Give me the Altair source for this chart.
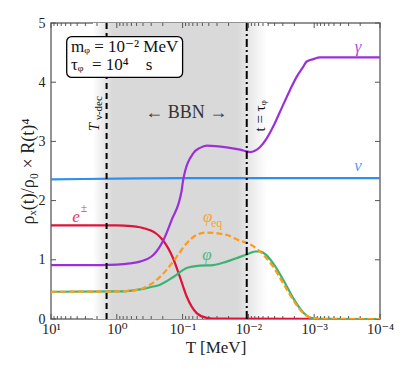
import altair as alt
import pandas as pd

# ---- data ----
T_gamma = [10, 3, 1.0, 0.63, 0.444, 0.279, 0.196, 0.147, 0.103, 0.098, 0.0688, 0.0544, 0.043, 0.0214,
           0.0134, 0.0106, 0.0095, 0.0067, 0.00527, 0.0042, 0.00331, 0.00233, 0.00185, 0.00147, 0.0013,
           0.00103, 0.00082, 0.0001]
v_gamma = [0.91, 0.91, 0.92, 0.94, 0.97, 1.08, 1.33, 1.67, 2.18, 2.35, 2.80, 2.89, 2.93, 2.90,
           2.86, 2.83, 2.82, 2.90, 3.05, 3.25, 3.50, 3.87, 4.09, 4.26, 4.35,
           4.39, 4.42, 4.42]

T_nu = [10, 1.0, 0.1, 0.01, 0.0001]
v_nu = [2.36, 2.37, 2.38, 2.38, 2.38]

T_ee = [10, 1.0, 0.6, 0.444, 0.313, 0.25, 0.199, 0.14, 0.11, 0.0867, 0.0611, 0.043, 0.03, 0.0001]
v_ee = [1.58, 1.58, 1.57, 1.55, 1.50, 1.44, 1.33, 1.03, 0.71, 0.38, 0.10, 0.02, 0.005, 0.0]

T_phieq = [10, 1.0, 0.6, 0.4, 0.248, 0.175, 0.123, 0.0867, 0.0611, 0.043, 0.0214, 0.0134, 0.0106,
           0.00667, 0.00419, 0.00295, 0.00208, 0.00147, 0.00103, 0.0008, 0.0001]
v_phieq = [0.46, 0.465, 0.48, 0.52, 0.66, 0.83, 1.05, 1.28, 1.42, 1.46, 1.42, 1.32, 1.29,
           1.14, 0.88, 0.60, 0.32, 0.10, 0.01, 0.0, 0.0]

T_phi = [10, 1.0, 0.6, 0.4, 0.3, 0.22, 0.138, 0.0867, 0.0544, 0.0341, 0.0214, 0.0134, 0.0106,
         0.0079, 0.0067, 0.0042, 0.00295, 0.00208, 0.00147, 0.00103, 0.0008, 0.0001]
v_phi = [0.46, 0.465, 0.48, 0.51, 0.54, 0.58, 0.71, 0.86, 0.90, 0.91, 0.97, 1.05, 1.09,
         1.14, 1.14, 0.94, 0.66, 0.35, 0.11, 0.01, 0.0, 0.0]

T_nudec = 1.43
T_tau = 0.0106
bbn_band = [2.30, 0.0052]

x_major = [10, 1, 0.1, 0.01, 0.001, 0.0001]
y_major = [0, 1, 2, 3, 4, 5]

C_GAMMA = "#9b30d9"
C_NU = "#2e8ff0"
C_EE = "#dc143c"
C_PHIEQ = "#ff9a1a"
C_PHI = "#3cb371"
FONT = "'Liberation Serif', 'DejaVu Serif', serif"
AX = "#707070"

xscale = alt.Scale(type="log", domain=[1e-4, 10], reverse=True)
yscale = alt.Scale(domain=[0, 5])


def X(**kw):
    return alt.X("T:Q", scale=xscale, **kw)


def Y(**kw):
    return alt.Y("v:Q", scale=yscale, **kw)


def series(T, v):
    return pd.DataFrame({"T": T, "v": v})


# shaded BBN band with soft edges
band = alt.Chart(pd.DataFrame({"T": [bbn_band[0]], "T2": [bbn_band[1]], "v": [0], "v2": [5]})).mark_rect(
    color=alt.Gradient(
        gradient="linear", x1=0, x2=1, y1=0, y2=0,
        stops=[alt.GradientStop(offset=0, color="#ffffff"),
               alt.GradientStop(offset=0.11, color="#d9d9d9"),
               alt.GradientStop(offset=0.83, color="#d9d9d9"),
               alt.GradientStop(offset=1, color="#ffffff")]),
).encode(x=X(title="T [MeV]", axis=alt.Axis(
    values=x_major, ticks=False, grid=False, domain=False, labelFlush=False,
    labelExpr="datum.value >= 5 ? '10¹' : datum.value >= 0.5 ? '10⁰' : datum.value >= 0.05 ? '10⁻¹' : datum.value >= 0.005 ? '10⁻²' : datum.value >= 0.0005 ? '10⁻³' : '10⁻⁴'",
    labelFont=FONT, labelFontSize=14.5, labelColor="#222", labelPadding=3,
    titleFont=FONT, titleFontSize=17, titleFontWeight="normal", titleColor="#222", titlePadding=4)),
    x2="T2:Q",
    y=Y(title="ρₓ(t)/ρ₀ × R(t)⁴", axis=alt.Axis(
        values=y_major, format="d", ticks=False, grid=False, domain=False, labelFlush=False,
        labelFont=FONT, labelFontSize=14,
        labelColor="#222", labelPadding=6, titleFont=FONT, titleFontSize=18, titleFontWeight="normal",
        titleColor="#222", titlePadding=1)),
    y2="v2:Q")

# inward ticks
tick_rows = []
for k in range(1, -5, -1):
    base = 10.0 ** k
    tick_rows.append({"T": base, "a": 0, "b": 0.085})
    tick_rows.append({"T": base, "a": 5, "b": 4.915})
    if k > -4:
        for m in range(2, 10):
            t = m * base / 10
            tick_rows.append({"T": t, "a": 0, "b": 0.05})
            tick_rows.append({"T": t, "a": 5, "b": 4.95})
xt = alt.Chart(pd.DataFrame(tick_rows)).mark_rule(color="#555", strokeWidth=1).encode(
    x=alt.X("T:Q", scale=xscale), y=alt.Y("a:Q", scale=yscale), y2="b:Q")

ytick_rows = []
for yv in y_major:
    ytick_rows.append({"x1": 10, "x2": 10 ** (1 - 5 / 65.8), "v": yv})
    ytick_rows.append({"x1": 1e-4, "x2": 10 ** (-4 + 5 / 65.8), "v": yv})
yt = alt.Chart(pd.DataFrame(ytick_rows)).mark_rule(color="#555", strokeWidth=1).encode(
    x=alt.X("x1:Q", scale=xscale), x2="x2:Q", y=alt.Y("v:Q", scale=yscale))


def line(T, v, color, dash=None):
    kw = dict(color=color, strokeWidth=2.2, interpolate="monotone", clip=True)
    if dash:
        kw["strokeDash"] = dash
    return alt.Chart(series(T, v)).mark_line(**kw).encode(x=X(), y=Y())


l_nu = line(T_nu, v_nu, C_NU)
l_ee = line(T_ee, v_ee, C_EE)
l_gamma = line(T_gamma, v_gamma, C_GAMMA)
l_phi = line(T_phi, v_phi, C_PHI)
l_phieq = line(T_phieq, v_phieq, C_PHIEQ, dash=[6, 3])

vl1 = alt.Chart(pd.DataFrame({"T": [T_nudec], "v": [0], "v2": [5]})).mark_rule(
    color="black", strokeWidth=2, strokeDash=[6, 4]).encode(x=X(), y=Y(), y2="v2:Q")
vl2 = alt.Chart(pd.DataFrame({"T": [T_tau], "v": [0], "v2": [5]})).mark_rule(
    color="black", strokeWidth=2, strokeDash=[8, 3, 2, 3]).encode(x=X(), y=Y(), y2="v2:Q")

# parameter box
box = alt.Chart(pd.DataFrame({"T": [5.77], "T2": [0.1], "v": [4.77], "v2": [4.08]})).mark_rect(
    fill="white", stroke="black", strokeWidth=1.3, cornerRadius=5).encode(x=X(), x2="T2:Q", y=Y(), y2="v2:Q")


def text(items, **kw):
    df = pd.DataFrame(items, columns=["T", "v", "label"])
    base = dict(font=FONT)
    base.update(kw)
    return alt.Chart(df).mark_text(**base).encode(x=X(), y=Y(), text="label:N")


NB = "\u00a0"
box_txt = text([[4.97, 4.59, "mᵩ = 10⁻² MeV"],
                [4.97, 4.29, "τᵩ" + NB * 2 + "= 10⁴" + NB * 4 + "s"]],
               align="left", baseline="middle", fontSize=17, color="#111")

bbn_txt = text([[0.088, 3.48, "← BBN →"]], align="center", baseline="middle", fontSize=18, color="#333")

tnu_T = text([[2.25, 3.17, "T"]], align="left", baseline="middle", angle=270, fontSize=15,
             fontStyle="italic", color="#111")
tnu_sub = text([[1.85, 3.36, "ν-dec"]], align="left", baseline="middle", angle=270, fontSize=11,
               color="#111")
ttau = text([[0.0067, 3.43, "t = τᵩ"]], align="center", baseline="middle", angle=270, fontSize=15,
            color="#111")

lab_gamma = text([[0.000216, 4.59, "γ"]], align="center", baseline="middle", fontSize=17,
                 fontStyle="italic", color=C_GAMMA, opacity=0.85)
lab_nu = text([[0.000216, 2.58, "ν"]], align="center", baseline="middle", fontSize=17,
              fontStyle="italic", color=C_NU, opacity=0.85)
lab_e = text([[4.17, 1.72, "e"]], align="center", baseline="middle", fontSize=17,
             fontStyle="italic", color=C_EE, opacity=0.85)
lab_pm = text([[3.14, 1.87, "±"]], align="center", baseline="middle", fontSize=12,
              color=C_EE, opacity=0.85)
lab_phieq = text([[0.049, 1.72, "φ"]], align="left", baseline="middle", fontSize=17,
                 fontStyle="italic", color=C_PHIEQ, opacity=0.85)
lab_eq = text([[0.037, 1.63, "eq"]], align="left", baseline="middle", fontSize=12,
              color=C_PHIEQ, opacity=0.85)
lab_phi = text([[0.0427, 1.08, "φ"]], align="center", baseline="middle", fontSize=17,
               fontStyle="italic", color=C_PHI, opacity=0.85)

chart = alt.layer(
    band, xt, yt, l_nu, l_ee, l_gamma, l_phi, l_phieq, vl1, vl2, box, box_txt, bbn_txt,
    tnu_T, tnu_sub, ttau, lab_gamma, lab_nu, lab_e, lab_pm, lab_phieq, lab_eq, lab_phi
).properties(
    width=329, height=296,
    padding={"left": 43, "top": 15, "right": 23, "bottom": 50},
    autosize=alt.AutoSizeParams(type="none"),
    background="white",
).configure_view(stroke=AX, strokeWidth=1.5)

chart.save("out.html", embed_options={"renderer": "svg", "actions": False})
